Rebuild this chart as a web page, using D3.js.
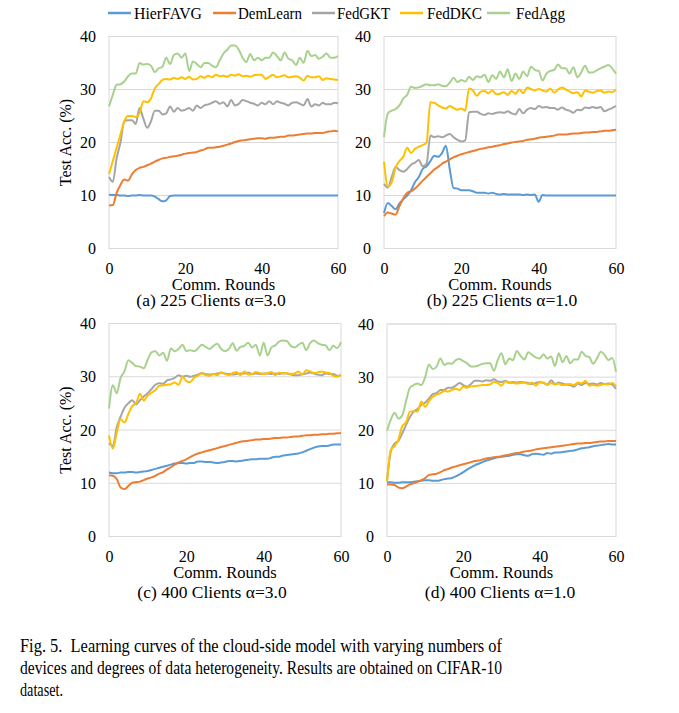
<!DOCTYPE html>
<html><head><meta charset="utf-8">
<script src="https://cdn.jsdelivr.net/npm/d3@7"></script>
<style>body{margin:0;background:#fff;} svg{display:block;font-family:"Liberation Serif","Times New Roman",serif;}</style>
</head><body>
<svg id="chart" width="679" height="713"></svg>
<script>
const rounds = [0,1,2,3,4,5,6,7,8,9,10,11,12,13,14,15,16,17,18,19,20,21,22,23,24,25,26,27,28,29,30,31,32,33,34,35,36,37,38,39,40,41,42,43,44,45,46,47,48,49,50,51,52,53,54,55,56,57,58,59,60];
const seriesNames = ["HierFAVG","DemLearn","FedGKT","FedDKC","FedAgg"];
const seriesColors = ["#5b9bd5","#ed7d31","#a5a5a5","#ffc000","#a9d18e"];
const xTicks = [0,20,40,60];
const yTicks = [0,10,20,30,40];
const panelTitles = ["(a) 225 Clients α=3.0","(b) 225 Clients α=1.0","(c) 400 Clients α=3.0","(d) 400 Clients α=1.0"];

// (a) 225 clients, alpha=3.0
const aHier = [10.2,10.1,10.1,10,10,9.9,10,10,10.1,10,10,10,9.8,9.3,8.9,9.1,9.9,10,10,10,10,10,10,10,10,10,10,10,10,10,10,10,10,10,10,10,10,10,10,10,10,10,10,10,10,10,10,10,10,10,10,10,10,10,10,10,10,10,10,10,10];
const aDem = [8.1,8.2,10.5,12,13,12.8,14,14.8,15.2,15.4,15.7,16,16.4,16.7,17,17.1,17.3,17.4,17.5,17.7,17.9,18,18.1,18.2,18.5,18.7,19,19,19.1,19.2,19.4,19.6,19.8,20.1,20.3,20.4,20.5,20.6,20.7,20.8,20.8,20.7,20.9,20.9,21,21.1,21.1,21.3,21.3,21.4,21.5,21.6,21.7,21.7,21.8,21.8,21.8,22,22.1,22.2,22.1];
const aGKT = [13.5,12.6,17,20,24,24.2,24.2,23.5,26.5,24.5,22.8,24,26,26,25.3,25.5,26.8,25.8,26.5,26,26.2,26.5,26,27,26.5,27,27.2,27.5,27.8,27.3,27.6,26.8,28,27,27.3,28,27.8,27.5,27.3,27,27.5,27.2,27.8,27.2,27.8,27.5,27.3,27,27.5,27.6,27.3,27,28.2,26.8,27.2,27,27.5,27.2,27.2,27.5,27.4];
const aDKC = [14,16.5,19,21.5,24,25,25,24.8,25.5,27.8,27.6,28.3,30.2,31,31.8,32,31.9,32.2,32,32.3,32,32.4,31.9,32,32.5,32.2,32.6,32.3,32.8,32.5,32.6,32.4,32.8,32.6,32.9,32.5,32.6,32.4,32.7,32.8,32.8,32,32.4,32.8,32.3,32.5,32.7,32.3,32.4,32.5,32.2,31.7,32.6,32.3,32.3,32.5,31.8,32.1,32,31.9,31.8];
const aAgg = [26.8,29,30.9,31,31.5,32.5,33,33,35,34.7,34.8,34.5,33.3,34,34.3,36,34.8,36.5,36.8,36,36.8,33.5,35.3,34.8,34.2,35,35,34.5,34.2,35.5,36.8,37.5,38.3,38.3,37.5,36,35.2,36.7,35.5,36,35.5,36,36,37,36.3,35.5,37,35.8,35.5,34.6,36,35,37.3,36.3,36.5,35.8,36.2,36.8,36,36,36.3];

// (b) 225 clients, alpha=1.0
const bHier = [6.7,8.6,8,7.4,8.5,9.3,10,11,12.5,13.5,15,15.5,16.5,17.5,17.3,18,19.4,15,11.4,11.3,11,11,11,10.8,10.5,10.5,10.5,10.4,10.5,10.3,10.2,10.3,10.2,10.2,10.2,10.2,10.1,10.2,10.1,10.2,8.8,10.1,10,10,10,10,10,10,10,10,10,10,10,10,10,10,10,10,10,10,10];
const bDem = [6.1,6.8,6.6,6.4,8,9.5,10.5,10.8,11.3,12,12.8,13.5,14.2,14.9,15.4,16,16.4,16.8,17.2,17.5,17.8,18,18.2,18.4,18.6,18.8,18.9,19.1,19.2,19.4,19.5,19.7,19.8,20,20.1,20.2,20.3,20.5,20.6,20.7,20.9,21,21.1,21.2,21.3,21.5,21.5,21.5,21.6,21.7,21.7,21.8,21.9,21.9,22,22,22.1,22.2,22.2,22.3,22.4];
const bGKT = [12.2,11.5,13.5,15.4,14.8,14.5,15,15.8,16.2,16.7,15.5,16,21.3,21,21.2,21,21.3,21.6,21,20.5,20.2,20.4,25.7,25.8,25.8,25.4,25.2,25.5,25.4,25.6,25.7,25.6,25.9,25.5,25.3,26.3,25.5,26.2,26.5,26.3,26.9,26.6,26.7,26.5,26.5,26.2,26.6,26.2,26,25.6,26.2,26.1,26.6,26.5,26.7,26.5,26.7,25.9,26.2,26.5,26.9];
const bDKC = [16.4,11.7,12.5,15.3,16.5,17.3,19,18,18.8,19.2,19.5,20,27.6,27.5,27,26.6,26.4,26.9,26.5,26.2,26.4,26,30.2,29.8,28.8,29.6,29.7,29.3,29.8,29.1,29.2,29.5,29,29.7,29.2,30,29.3,30.4,30.1,29.8,30.1,29.8,29.6,30.2,29.4,30,30.4,30,29.6,29.3,29.5,28.7,29.8,29.6,29.4,29.7,29.8,29.4,29.6,29.5,30];
const bAgg = [21,25.5,26,26.3,27,28.3,29,30.5,30.3,30.4,30.7,31,30.8,30.8,31,30.7,30.6,31.3,32.2,31.4,31.8,31.5,32.4,31.8,32.5,32.3,32.8,31.4,32.7,32,33.4,32.3,33.8,31.6,33,32,33.4,32.5,34.3,33.7,33.5,31.7,33,33.5,33.7,34.7,34,34,33,34.2,32.3,33.2,34.5,33.2,33.2,33.6,34,34.3,34.6,34,33];

// (c) 400 clients, alpha=3.0
const cHier = [12,11.9,11.9,12,12,12.1,12.1,12,12.1,12.2,12.3,12.5,12.7,12.9,13.1,13.3,13.5,13.7,13.8,13.8,13.7,13.8,13.8,14.1,14.1,14,14,13.9,13.8,13.9,14,14.2,14.2,14.1,14.2,14.3,14.4,14.5,14.5,14.6,14.6,14.6,14.8,15,15,15.2,15.3,15.4,15.5,15.6,15.8,16.1,16.4,16.7,16.9,17,17,17.1,17.3,17.3,17.3];
const cDem = [11.5,11.4,10.8,9.2,8.9,9.5,10.1,10.2,10.3,10.6,10.9,11.1,11.4,11.8,12.1,12.6,13,13.5,13.9,14.2,14.5,14.9,15.3,15.6,15.8,16,16.2,16.4,16.6,16.8,17,17.2,17.4,17.6,17.8,17.9,18,18.1,18.2,18.2,18.3,18.3,18.4,18.5,18.5,18.6,18.6,18.7,18.8,18.8,18.9,19,19,19.1,19.1,19.2,19.2,19.3,19.3,19.4,19.4];
const cGKT = [17.5,17,20.5,22.5,24.2,25,25.6,24.8,25.6,26.3,26.9,27.7,28.5,28.8,28.7,29.3,29.5,29.8,30.3,30,30.2,30,30.2,30.4,30.7,30.5,30.4,30.5,30.6,30.8,30.6,30.5,30.4,30.5,30.6,30.6,30.8,30.5,30.6,30.5,30.6,30.6,30.5,30.6,30.5,30.7,30.6,30.4,30.3,30.3,30.5,30.6,30.8,30.6,30.4,30.3,30.6,30.5,30.5,30.2,30.3];
const cDKC = [19,16.5,19.5,22,21.4,23,24.5,25,26.8,25.5,26.5,27,27.5,28.3,28.4,28.5,28.6,28.9,28.5,30,29.2,29,29.8,30.2,30.6,30.3,30.2,30.5,30.3,30.8,30.5,30.3,30.7,30.9,30.3,31,30.4,30.5,30.9,30.7,30.5,30.7,30.9,30.3,30.8,30.6,30.7,30.5,30.6,31,30.4,31.2,31,30.7,30.8,31,30.8,30.7,30.2,30,30.4];
const cAgg = [24,28.4,26.9,29.8,31,33.1,32.6,32,31.9,31.6,33.2,34.6,34.8,34,34.5,33,35.3,34.8,35.2,36,34.8,35,34.8,35.3,36,35.6,35.2,35.8,36.2,35.2,34.8,35.2,36.3,34.9,35.6,35.8,36.4,35.5,36,34,36.4,34,35.5,35.9,36.6,36.8,36.7,35.8,35.5,36,36.4,35,36.3,36.8,36.3,36,35.9,35,35.8,35.4,36.5];

// (d) 400 clients, alpha=1.0
const dHier = [10.2,10.2,10.1,10.1,10.2,10.2,10.2,10.3,10.4,10.5,10.6,10.6,10.5,10.5,10.6,10.8,10.9,11,11.3,11.7,12.1,12.6,13,13.4,13.7,14,14.3,14.5,14.7,14.9,15,15.1,15.2,15.4,15.5,15.5,15.3,15.2,15.5,15.6,15.5,15.4,15.7,15.6,15.8,15.8,15.9,16,16.1,16.2,16.4,16.6,16.7,16.8,17,17.1,17.2,17.3,17.4,17.3,17.3];
const dDem = [9.8,9.8,9.7,9.2,9.1,9.4,9.8,10,10.3,10.6,11,11.6,11.7,11.8,12.1,12.5,12.7,13,13.2,13.4,13.6,13.8,14,14.2,14.3,14.5,14.7,14.8,14.9,15,15.1,15.3,15.4,15.6,15.7,15.8,16,16.1,16.2,16.4,16.5,16.6,16.7,16.8,16.9,17,17.1,17.2,17.3,17.4,17.5,17.5,17.6,17.6,17.7,17.8,17.9,17.9,18,18,18];
const dGKT = [10.5,16,17.5,18,19.4,21,22.5,23.5,24,24.8,25.2,26,26.8,27,27.6,27.6,28,28,28.4,28.9,28.5,28.2,28.7,29.3,29.3,29.2,29.4,29.3,29.6,29.2,29.1,29.3,29,29.1,29,29.1,29,28.9,28.7,28.9,29.1,28.9,28.6,29.4,28.7,29,28.8,28.6,28.5,28.2,28.8,28.5,28.9,28.7,28.8,28.6,28.9,28.7,28.8,28.6,27.8];
const dDKC = [10.3,16.3,17,18.3,20.8,21.5,23.5,23.6,23.5,25.4,24.4,25.5,26.3,26.7,27,27.4,27.3,27.6,27.8,27.6,28.2,28,28.3,28.3,28.4,28.5,28.5,28.6,29.1,28.9,28.4,29.2,28.9,28.9,28.8,28.9,29,28.7,29,28.4,29,29,28.5,28.9,28.6,28.8,28.5,28.6,28.7,28.5,29,28.8,29.3,28.4,28.5,28.4,28.5,28.7,28.6,28.9,28.3];
const dAgg = [19.9,22,23.3,22.2,22.8,25.5,28,28.5,28.8,28.5,30,32.4,31.5,32,33.5,32.3,32.6,32.5,33.2,33.4,33,32.6,32,32,32.2,32.5,32.6,32.6,31.2,33.2,34.5,32.4,33.5,33.2,34.9,34,33.3,34.7,34.2,33.7,33.5,34.3,33.5,33.9,32.1,34.5,32.8,34,32.6,33.3,33.3,34.8,34,33.8,32.5,33.5,34.8,34.2,33.2,33.6,31];

const captionLines = [
  "Fig. 5.  Learning curves of the cloud-side model with varying numbers of",
  "devices and degrees of data heterogeneity. Results are obtained on CIFAR-10",
  "dataset."
];

const panelData = [
  [aHier,aDem,aGKT,aDKC,aAgg],
  [bHier,bDem,bGKT,bDKC,bAgg],
  [cHier,cDem,cGKT,cDKC,cAgg],
  [dHier,dDem,dGKT,dDKC,dAgg]
];
const panelBoxes = [
  {x0:109, x1:338, y0:36.5, y1:248.5, titleX:211, yLabel:true, titleY:306},
  {x0:384, x1:616, y0:36.5, y1:248.5, titleX:502, yLabel:false, titleY:306},
  {x0:109, x1:341, y0:323.5, y1:536.5, titleX:212, yLabel:true, titleY:598},
  {x0:387, x1:616, y0:324, y1:536.5, titleX:500, yLabel:false, titleY:598}
];

const svg = d3.select("#chart");
svg.append("rect").attr("width",679).attr("height",713).attr("fill","#fff");

const gridColor = "#d9d9d9";

panelBoxes.forEach((b, pi) => {
  const x = d3.scaleLinear().domain([0,60]).range([b.x0,b.x1]);
  const y = d3.scaleLinear().domain([0,40]).range([b.y1,b.y0]);
  const g = svg.append("g");

  g.selectAll("line.grid").data(yTicks).join("line")
    .attr("x1",b.x0).attr("x2",b.x1)
    .attr("y1",d=>y(d)).attr("y2",d=>y(d))
    .attr("stroke",gridColor).attr("stroke-width",1);
  g.append("rect").attr("x",b.x0).attr("y",b.y0)
    .attr("width",b.x1-b.x0).attr("height",b.y1-b.y0)
    .attr("fill","none").attr("stroke",gridColor).attr("stroke-width",1);

  const yAxis = d3.axisLeft(y).tickValues(yTicks).tickSize(0).tickPadding(13);
  const ya = g.append("g").attr("transform",`translate(${b.x0},0)`).call(yAxis);
  ya.select(".domain").remove();
  ya.selectAll("text").attr("font-size",16).attr("fill","#000")
    .attr("font-family","Liberation Serif, Times New Roman, serif");

  const xAxis = d3.axisBottom(x).tickValues(xTicks).tickSize(0).tickPadding(14);
  const xa = g.append("g").attr("transform",`translate(0,${b.y1})`).call(xAxis);
  xa.select(".domain").remove();
  xa.selectAll("text").attr("font-size",16).attr("fill","#000")
    .attr("font-family","Liberation Serif, Times New Roman, serif");

  const line = d3.line().x((d,i)=>x(rounds[i])).y(d=>y(d)).curve(d3.curveMonotoneX);
  panelData[pi].forEach((vals, si) => {
    g.append("path").datum(vals).attr("d",line)
      .attr("fill","none").attr("stroke",seriesColors[si])
      .attr("stroke-width",2).attr("stroke-linejoin","round");
  });

  g.append("text").attr("x",(b.x0+b.x1)/2).attr("y",b.y1+41)
    .attr("text-anchor","middle").attr("font-size",16.5).text("Comm. Rounds");
  g.append("text").attr("x",b.titleX).attr("y",b.titleY)
    .attr("text-anchor","middle").attr("font-size",17.5).text(panelTitles[pi]);
  if (b.yLabel) {
    const cy = (b.y0+b.y1)/2;
    g.append("text").attr("transform",`translate(71,${cy}) rotate(-90)`)
      .attr("text-anchor","middle").attr("font-size",16).text("Test Acc. (%)");
  }
});

// legend
const legendLineX = [108,213,312,400,487];
const legendTextX = [134,238,337,427,516];
const legendTextW = [68,64,53,55,49];
const legend = svg.append("g");
seriesNames.forEach((n,i) => {
  legend.append("line").attr("x1",legendLineX[i]).attr("x2",legendLineX[i]+23)
    .attr("y1",13).attr("y2",13).attr("stroke",seriesColors[i]).attr("stroke-width",2.5);
  legend.append("text").attr("x",legendTextX[i]).attr("y",18.5)
    .attr("font-size",16.5).attr("textLength",legendTextW[i])
    .attr("lengthAdjust","spacingAndGlyphs").text(n);
});

// caption
const capY = [652,674,696];
const capW = [482,482,43];
captionLines.forEach((t,i) => {
  svg.append("text").attr("x",20).attr("y",capY[i])
    .attr("font-size",18.5).attr("xml:space","preserve")
    .attr("textLength",capW[i]).attr("lengthAdjust","spacingAndGlyphs").text(t);
});
</script>
</body></html>
